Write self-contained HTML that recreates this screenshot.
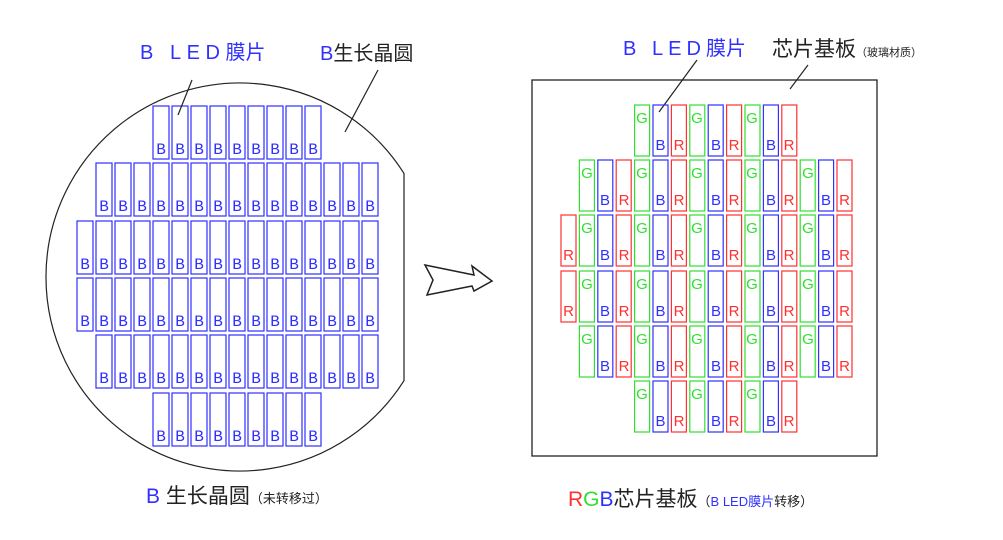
<!DOCTYPE html>
<html><head><meta charset="utf-8"><style>
html,body{margin:0;padding:0;background:#fff}
svg{display:block}
.cj{font-family:"Liberation Sans","Noto Sans CJK SC",sans-serif}
.lb rect{fill:none;stroke:#3030ff;stroke-width:1.2}
.lb text{fill:#3030ff;font-family:"Liberation Mono",monospace;font-size:16px;text-anchor:middle}
.r rect{fill:none;stroke-width:1.2}
.r text{font-family:"Liberation Sans",sans-serif;font-size:15px;text-anchor:middle}
.G rect{stroke:#30e030}.G text{fill:#30e030}
.B rect{stroke:#3030ff}.B text{fill:#3030ff}
.R rect{stroke:#ff3030}.R text{fill:#ff3030}
</style></head><body>
<svg width="1003" height="540" viewBox="0 0 1003 540" xmlns="http://www.w3.org/2000/svg">
<defs>
<g id="lc"><rect x="0" y="0" width="16" height="53"/></g>
</defs>
<!-- wafer -->
<path d="M404 173.4 A194 194 0 1 0 404 380.6 Z" fill="none" stroke="#222" stroke-width="1.2"/>
<!-- left chips -->
<g class="lb">
<g transform="translate(0,106)">
<rect x="153" width="16" height="53"/><rect x="172" width="16" height="53"/><rect x="191" width="16" height="53"/><rect x="210" width="16" height="53"/><rect x="229" width="16" height="53"/><rect x="248" width="16" height="53"/><rect x="267" width="16" height="53"/><rect x="286" width="16" height="53"/><rect x="305" width="16" height="53"/>
<text x="161" y="48">B</text><text x="180" y="48">B</text><text x="199" y="48">B</text><text x="218" y="48">B</text><text x="237" y="48">B</text><text x="256" y="48">B</text><text x="275" y="48">B</text><text x="294" y="48">B</text><text x="313" y="48">B</text>
</g>
<g transform="translate(0,393)">
<rect x="153" width="16" height="53"/><rect x="172" width="16" height="53"/><rect x="191" width="16" height="53"/><rect x="210" width="16" height="53"/><rect x="229" width="16" height="53"/><rect x="248" width="16" height="53"/><rect x="267" width="16" height="53"/><rect x="286" width="16" height="53"/><rect x="305" width="16" height="53"/>
<text x="161" y="48">B</text><text x="180" y="48">B</text><text x="199" y="48">B</text><text x="218" y="48">B</text><text x="237" y="48">B</text><text x="256" y="48">B</text><text x="275" y="48">B</text><text x="294" y="48">B</text><text x="313" y="48">B</text>
</g>
<g transform="translate(0,163)">
<rect x="96" width="16" height="53"/><rect x="115" width="16" height="53"/><rect x="134" width="16" height="53"/><rect x="153" width="16" height="53"/><rect x="172" width="16" height="53"/><rect x="191" width="16" height="53"/><rect x="210" width="16" height="53"/><rect x="229" width="16" height="53"/><rect x="248" width="16" height="53"/><rect x="267" width="16" height="53"/><rect x="286" width="16" height="53"/><rect x="305" width="16" height="53"/><rect x="324" width="16" height="53"/><rect x="343" width="16" height="53"/><rect x="362" width="16" height="53"/>
<text x="104" y="48">B</text><text x="123" y="48">B</text><text x="142" y="48">B</text><text x="161" y="48">B</text><text x="180" y="48">B</text><text x="199" y="48">B</text><text x="218" y="48">B</text><text x="237" y="48">B</text><text x="256" y="48">B</text><text x="275" y="48">B</text><text x="294" y="48">B</text><text x="313" y="48">B</text><text x="332" y="48">B</text><text x="351" y="48">B</text><text x="370" y="48">B</text>
</g>
<g transform="translate(0,335)">
<rect x="96" width="16" height="53"/><rect x="115" width="16" height="53"/><rect x="134" width="16" height="53"/><rect x="153" width="16" height="53"/><rect x="172" width="16" height="53"/><rect x="191" width="16" height="53"/><rect x="210" width="16" height="53"/><rect x="229" width="16" height="53"/><rect x="248" width="16" height="53"/><rect x="267" width="16" height="53"/><rect x="286" width="16" height="53"/><rect x="305" width="16" height="53"/><rect x="324" width="16" height="53"/><rect x="343" width="16" height="53"/><rect x="362" width="16" height="53"/>
<text x="104" y="48">B</text><text x="123" y="48">B</text><text x="142" y="48">B</text><text x="161" y="48">B</text><text x="180" y="48">B</text><text x="199" y="48">B</text><text x="218" y="48">B</text><text x="237" y="48">B</text><text x="256" y="48">B</text><text x="275" y="48">B</text><text x="294" y="48">B</text><text x="313" y="48">B</text><text x="332" y="48">B</text><text x="351" y="48">B</text><text x="370" y="48">B</text>
</g>
<g transform="translate(0,221)">
<rect x="77" width="16" height="53"/><rect x="96" width="16" height="53"/><rect x="115" width="16" height="53"/><rect x="134" width="16" height="53"/><rect x="153" width="16" height="53"/><rect x="172" width="16" height="53"/><rect x="191" width="16" height="53"/><rect x="210" width="16" height="53"/><rect x="229" width="16" height="53"/><rect x="248" width="16" height="53"/><rect x="267" width="16" height="53"/><rect x="286" width="16" height="53"/><rect x="305" width="16" height="53"/><rect x="324" width="16" height="53"/><rect x="343" width="16" height="53"/><rect x="362" width="16" height="53"/>
<text x="85" y="48">B</text><text x="104" y="48">B</text><text x="123" y="48">B</text><text x="142" y="48">B</text><text x="161" y="48">B</text><text x="180" y="48">B</text><text x="199" y="48">B</text><text x="218" y="48">B</text><text x="237" y="48">B</text><text x="256" y="48">B</text><text x="275" y="48">B</text><text x="294" y="48">B</text><text x="313" y="48">B</text><text x="332" y="48">B</text><text x="351" y="48">B</text><text x="370" y="48">B</text>
</g>
<g transform="translate(0,278)">
<rect x="77" width="16" height="53"/><rect x="96" width="16" height="53"/><rect x="115" width="16" height="53"/><rect x="134" width="16" height="53"/><rect x="153" width="16" height="53"/><rect x="172" width="16" height="53"/><rect x="191" width="16" height="53"/><rect x="210" width="16" height="53"/><rect x="229" width="16" height="53"/><rect x="248" width="16" height="53"/><rect x="267" width="16" height="53"/><rect x="286" width="16" height="53"/><rect x="305" width="16" height="53"/><rect x="324" width="16" height="53"/><rect x="343" width="16" height="53"/><rect x="362" width="16" height="53"/>
<text x="85" y="48">B</text><text x="104" y="48">B</text><text x="123" y="48">B</text><text x="142" y="48">B</text><text x="161" y="48">B</text><text x="180" y="48">B</text><text x="199" y="48">B</text><text x="218" y="48">B</text><text x="237" y="48">B</text><text x="256" y="48">B</text><text x="275" y="48">B</text><text x="294" y="48">B</text><text x="313" y="48">B</text><text x="332" y="48">B</text><text x="351" y="48">B</text><text x="370" y="48">B</text>
</g>
</g>
<!-- left labels -->
<text x="140" y="59" class="cj" font-size="20" fill="#3030ff"><tspan font-family="Liberation Sans" textLength="80" lengthAdjust="spacing">B LED</tspan>膜片</text>
<text x="320" y="60" class="cj" font-size="20" fill="#222"><tspan fill="#3030ff">B</tspan>生长晶圆</text>
<line x1="192" y1="80" x2="178" y2="115" stroke="#222" stroke-width="1.2"/>
<line x1="378" y1="70" x2="345" y2="132" stroke="#222" stroke-width="1.2"/>
<text x="146" y="503" class="cj" font-size="21" fill="#222"><tspan fill="#3030ff">B</tspan> 生长晶圆<tspan font-size="13">（未转移过）</tspan></text>
<!-- arrow -->
<path d="M425 265 L474 275 L472 266 L492 281 L474 291 L472 286 L427 295 L433 280 Z" fill="#fff" stroke="#222" stroke-width="1.5"/>
<!-- right box -->
<rect x="532" y="80" width="345" height="376" fill="none" stroke="#222" stroke-width="1.3"/>
<text x="623" y="55" class="cj" font-size="20" fill="#3030ff"><tspan font-family="Liberation Sans" textLength="78" lengthAdjust="spacing">B LED</tspan>膜片</text>
<text x="772" y="56" class="cj" font-size="21" fill="#222">芯片基板<tspan font-size="11">（玻璃材质）</tspan></text>
<line x1="697" y1="60" x2="659" y2="112" stroke="#222" stroke-width="1.2"/>
<line x1="808" y1="65" x2="790" y2="89" stroke="#222" stroke-width="1.2"/>
<text x="568" y="506" class="cj" font-size="21" fill="#222"><tspan fill="#ff3030">R</tspan><tspan fill="#30e030">G</tspan><tspan fill="#3030ff">B</tspan>芯片基板<tspan font-size="13">（<tspan fill="#3030ff">B LED膜片</tspan>转移）</tspan></text>
<!-- right chips -->
<g class="r">
<g transform="translate(0,105)">
<g class="G"><rect x="634.6" width="15" height="51"/><text x="642" y="18">G</text><rect x="689.8" width="15" height="51"/><text x="697" y="18">G</text><rect x="745" width="15" height="51"/><text x="752" y="18">G</text></g>
<g class="B"><rect x="653" width="15" height="51"/><text x="660.5" y="45">B</text><rect x="708.2" width="15" height="51"/><text x="716" y="45">B</text><rect x="763.4" width="15" height="51"/><text x="771" y="45">B</text></g>
<g class="R"><rect x="671.4" width="15" height="51"/><text x="679" y="45">R</text><rect x="726.6" width="15" height="51"/><text x="734" y="45">R</text><rect x="781.8" width="15" height="51"/><text x="789" y="45">R</text></g>
</g>
<g transform="translate(0,381)">
<g class="G"><rect x="634.6" width="15" height="51"/><text x="642" y="18">G</text><rect x="689.8" width="15" height="51"/><text x="697" y="18">G</text><rect x="745" width="15" height="51"/><text x="752" y="18">G</text></g>
<g class="B"><rect x="653" width="15" height="51"/><text x="660.5" y="45">B</text><rect x="708.2" width="15" height="51"/><text x="716" y="45">B</text><rect x="763.4" width="15" height="51"/><text x="771" y="45">B</text></g>
<g class="R"><rect x="671.4" width="15" height="51"/><text x="679" y="45">R</text><rect x="726.6" width="15" height="51"/><text x="734" y="45">R</text><rect x="781.8" width="15" height="51"/><text x="789" y="45">R</text></g>
</g>
<g transform="translate(0,160)">
<g class="G"><rect x="579.4" width="15" height="51"/><text x="587" y="18">G</text><rect x="634.6" width="15" height="51"/><text x="642" y="18">G</text><rect x="689.8" width="15" height="51"/><text x="697" y="18">G</text><rect x="745" width="15" height="51"/><text x="752" y="18">G</text><rect x="800.2" width="15" height="51"/><text x="808" y="18">G</text></g>
<g class="B"><rect x="597.8" width="15" height="51"/><text x="605" y="45">B</text><rect x="653" width="15" height="51"/><text x="660.5" y="45">B</text><rect x="708.2" width="15" height="51"/><text x="716" y="45">B</text><rect x="763.4" width="15" height="51"/><text x="771" y="45">B</text><rect x="818.6" width="15" height="51"/><text x="826" y="45">B</text></g>
<g class="R"><rect x="616.2" width="15" height="51"/><text x="624" y="45">R</text><rect x="671.4" width="15" height="51"/><text x="679" y="45">R</text><rect x="726.6" width="15" height="51"/><text x="734" y="45">R</text><rect x="781.8" width="15" height="51"/><text x="789" y="45">R</text><rect x="837" width="15" height="51"/><text x="844.5" y="45">R</text></g>
</g>
<g transform="translate(0,326)">
<g class="G"><rect x="579.4" width="15" height="51"/><text x="587" y="18">G</text><rect x="634.6" width="15" height="51"/><text x="642" y="18">G</text><rect x="689.8" width="15" height="51"/><text x="697" y="18">G</text><rect x="745" width="15" height="51"/><text x="752" y="18">G</text><rect x="800.2" width="15" height="51"/><text x="808" y="18">G</text></g>
<g class="B"><rect x="597.8" width="15" height="51"/><text x="605" y="45">B</text><rect x="653" width="15" height="51"/><text x="660.5" y="45">B</text><rect x="708.2" width="15" height="51"/><text x="716" y="45">B</text><rect x="763.4" width="15" height="51"/><text x="771" y="45">B</text><rect x="818.6" width="15" height="51"/><text x="826" y="45">B</text></g>
<g class="R"><rect x="616.2" width="15" height="51"/><text x="624" y="45">R</text><rect x="671.4" width="15" height="51"/><text x="679" y="45">R</text><rect x="726.6" width="15" height="51"/><text x="734" y="45">R</text><rect x="781.8" width="15" height="51"/><text x="789" y="45">R</text><rect x="837" width="15" height="51"/><text x="844.5" y="45">R</text></g>
</g>
<g transform="translate(0,215)">
<g class="G"><rect x="579.4" width="15" height="51"/><text x="587" y="18">G</text><rect x="634.6" width="15" height="51"/><text x="642" y="18">G</text><rect x="689.8" width="15" height="51"/><text x="697" y="18">G</text><rect x="745" width="15" height="51"/><text x="752" y="18">G</text><rect x="800.2" width="15" height="51"/><text x="808" y="18">G</text></g>
<g class="B"><rect x="597.8" width="15" height="51"/><text x="605" y="45">B</text><rect x="653" width="15" height="51"/><text x="660.5" y="45">B</text><rect x="708.2" width="15" height="51"/><text x="716" y="45">B</text><rect x="763.4" width="15" height="51"/><text x="771" y="45">B</text><rect x="818.6" width="15" height="51"/><text x="826" y="45">B</text></g>
<g class="R"><rect x="561" width="15" height="51"/><text x="568.5" y="45">R</text><rect x="616.2" width="15" height="51"/><text x="624" y="45">R</text><rect x="671.4" width="15" height="51"/><text x="679" y="45">R</text><rect x="726.6" width="15" height="51"/><text x="734" y="45">R</text><rect x="781.8" width="15" height="51"/><text x="789" y="45">R</text><rect x="837" width="15" height="51"/><text x="844.5" y="45">R</text></g>
</g>
<g transform="translate(0,271)">
<g class="G"><rect x="579.4" width="15" height="51"/><text x="587" y="18">G</text><rect x="634.6" width="15" height="51"/><text x="642" y="18">G</text><rect x="689.8" width="15" height="51"/><text x="697" y="18">G</text><rect x="745" width="15" height="51"/><text x="752" y="18">G</text><rect x="800.2" width="15" height="51"/><text x="808" y="18">G</text></g>
<g class="B"><rect x="597.8" width="15" height="51"/><text x="605" y="45">B</text><rect x="653" width="15" height="51"/><text x="660.5" y="45">B</text><rect x="708.2" width="15" height="51"/><text x="716" y="45">B</text><rect x="763.4" width="15" height="51"/><text x="771" y="45">B</text><rect x="818.6" width="15" height="51"/><text x="826" y="45">B</text></g>
<g class="R"><rect x="561" width="15" height="51"/><text x="568.5" y="45">R</text><rect x="616.2" width="15" height="51"/><text x="624" y="45">R</text><rect x="671.4" width="15" height="51"/><text x="679" y="45">R</text><rect x="726.6" width="15" height="51"/><text x="734" y="45">R</text><rect x="781.8" width="15" height="51"/><text x="789" y="45">R</text><rect x="837" width="15" height="51"/><text x="844.5" y="45">R</text></g>
</g>
</g>
</svg>
</body></html>
